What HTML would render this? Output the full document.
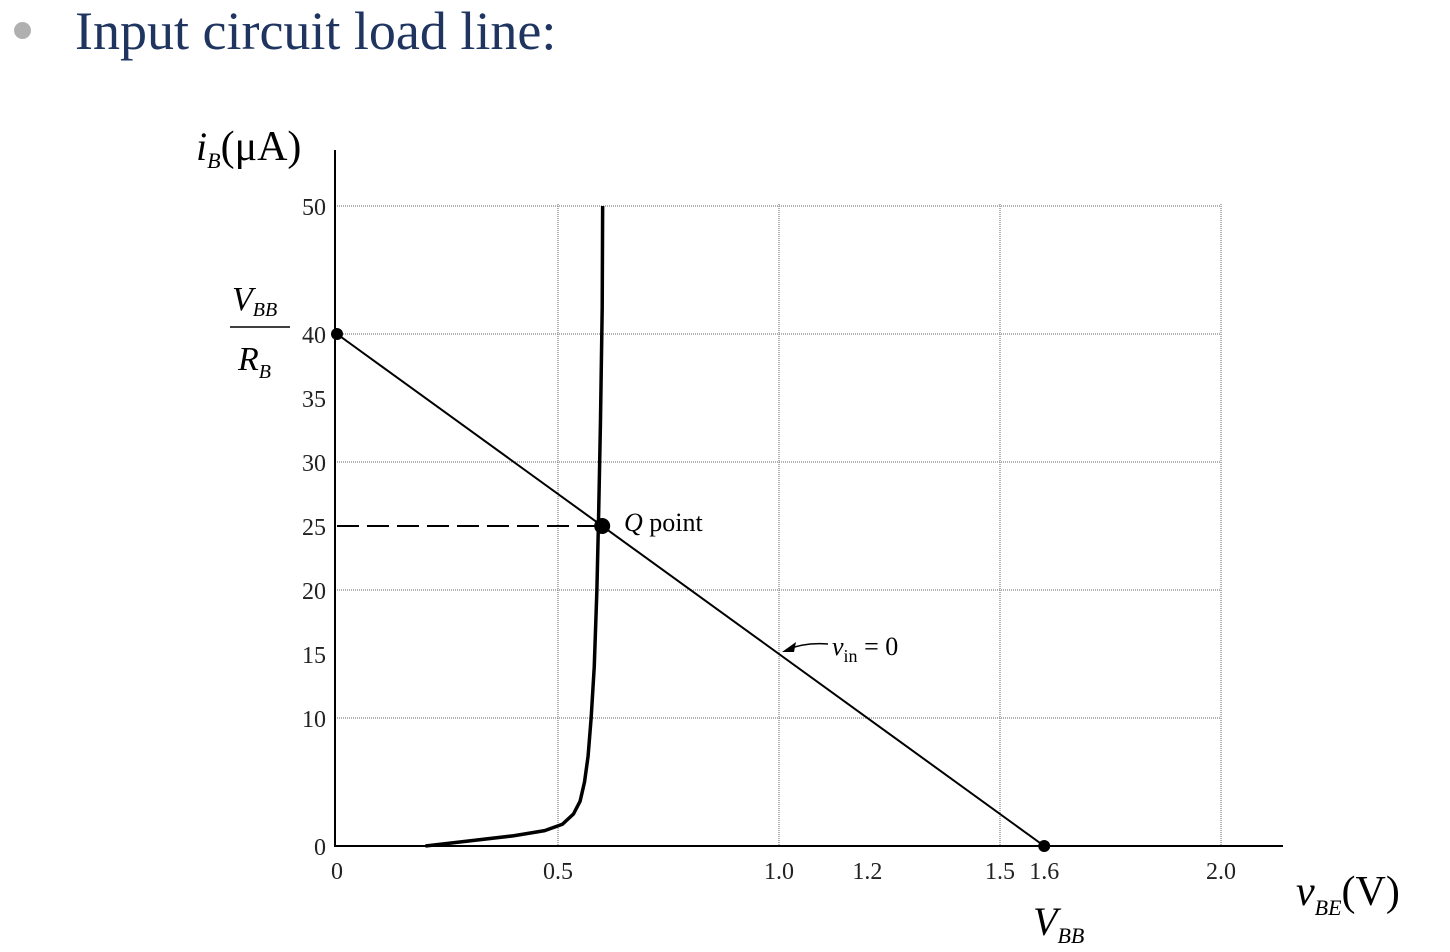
<!DOCTYPE html>
<html><head><meta charset="utf-8"><style>
html,body{margin:0;padding:0;background:#fff;}
body{width:1450px;height:952px;position:relative;overflow:hidden;font-family:"Liberation Serif",serif;}
.title{position:absolute;left:75px;top:0px;font-size:54px;color:#1f3560;}
.bullet{position:absolute;left:14px;top:22px;width:17px;height:17px;border-radius:50%;background:#b0b0b0;}
svg{position:absolute;left:0;top:0;}
</style></head><body>
<div class="bullet"></div>
<div class="title">Input circuit load line:</div>
<svg width="1450" height="952" font-family="Liberation Serif, serif">
<g id="grid"></g><g id="ticks"></g><g id="marks"></g>
<text x="196" y="160" font-size="40" font-style="italic">i<tspan font-size="22" dy="8">B</tspan><tspan font-style="normal" dy="-8" font-size="42">(μA)</tspan></text>
<text x="232" y="310" font-size="34" font-style="italic">V<tspan font-size="20" dy="6">BB</tspan></text>
<line x1="230" y1="327" x2="290" y2="327" stroke="#000" stroke-width="1.5"/>
<text x="238" y="370" font-size="34" font-style="italic">R<tspan font-size="20" dy="8">B</tspan></text>
<text x="1296" y="905" font-size="42" font-style="italic">v<tspan font-size="22" dy="10">BE</tspan><tspan font-style="normal" font-size="42" dy="-10">(V)</tspan></text>
<text x="1033" y="935" font-size="40" font-style="italic">V<tspan font-size="22" dy="8">BB</tspan></text>
<text x="624" y="531" font-size="26"><tspan font-style="italic">Q</tspan> point</text>
<text x="832" y="655" font-size="26"><tspan font-style="italic">v</tspan><tspan font-size="18" dy="7">in</tspan><tspan dy="-7"> = 0</tspan></text>
<path d="M828 644 Q805 642 786 650" fill="none" stroke="#000" stroke-width="1.5"/>
<polygon points="782,652 796,642 794,652" fill="#000"/>
</svg>
<script>
const xTicks=[0,0.5,1.0,1.2,1.5,1.6,2.0];
const xTickLabels=["0","0.5","1.0","1.2","1.5","1.6","2.0"];
const xGrid=[0.5,1.0,1.5,2.0];
const yTicks=[0,10,15,20,25,30,35,40,50];
const yGrid=[10,20,30,40,50];
const diodeV=[0.2,0.3,0.4,0.47,0.51,0.535,0.55,0.56,0.568,0.575,0.582,0.588,0.592,0.596,0.6,0.601];
const diodeI=[0,0.4,0.8,1.2,1.7,2.5,3.5,5,7,10,14,20,26,33,42,50];
const loadV=[0,1.6];
const loadI=[40,0];
const qV=0.6, qI=25;
const X=v=>337+v*442, Y=i=>846-i*12.8;
const NS="http://www.w3.org/2000/svg";
function mk(p,t,a){const e=document.createElementNS(NS,t);for(const k in a)e.setAttribute(k,a[k]);p.appendChild(e);return e;}
const g=document.getElementById('grid'),tk=document.getElementById('ticks'),m=document.getElementById('marks');
xGrid.forEach(v=>{const l=mk(g,'line',{x1:X(v),x2:X(v),y1:Y(50)-2,y2:Y(0),stroke:'#999','stroke-width':1.5,'stroke-dasharray':'1 1'});

});
yGrid.forEach(i=>{const l=mk(g,'line',{x1:X(0),x2:X(2.0),y1:Y(i),y2:Y(i),stroke:'#999','stroke-width':1.5,'stroke-dasharray':'1 1'});

});
let a=mk(g,'line',{x1:335,x2:335,y1:150,y2:847,stroke:'#000','stroke-width':2});


a=mk(g,'line',{x1:335,x2:1283,y1:846,y2:846,stroke:'#000','stroke-width':2});


xTicks.forEach((v,k)=>{const t=mk(tk,'text',{x:X(v),y:879,'font-size':24,'text-anchor':'middle',fill:'#222'});t.textContent=xTickLabels[k];

});
yTicks.forEach(i=>{const t=mk(tk,'text',{x:326,y:Y(i)+9,'font-size':24,'text-anchor':'end',fill:'#222'});t.textContent=String(i);

});
let d=diodeV.map((v,k)=>(k?'L':'M')+X(v)+' '+Y(diodeI[k])).join(' ');
let p=mk(m,'path',{d:d,fill:'none',stroke:'#000','stroke-width':3.5,'stroke-linejoin':'round'});


p=mk(m,'line',{x1:X(loadV[0]),y1:Y(loadI[0]),x2:X(loadV[1]),y2:Y(loadI[1]),stroke:'#000','stroke-width':2});


p=mk(m,'line',{x1:X(0),y1:Y(qI),x2:X(qV),y2:Y(qI),stroke:'#000','stroke-width':2,'stroke-dasharray':'22 8'});


[[qV,qI,8,'q-point'],[loadV[0],loadI[0],6,'load-start-point'],[loadV[1],loadI[1],6,'vbb-point']].forEach(q=>{const c=mk(m,'circle',{cx:X(q[0]),cy:Y(q[1]),r:q[2],fill:'#000'});

});
</script>
</body></html>
